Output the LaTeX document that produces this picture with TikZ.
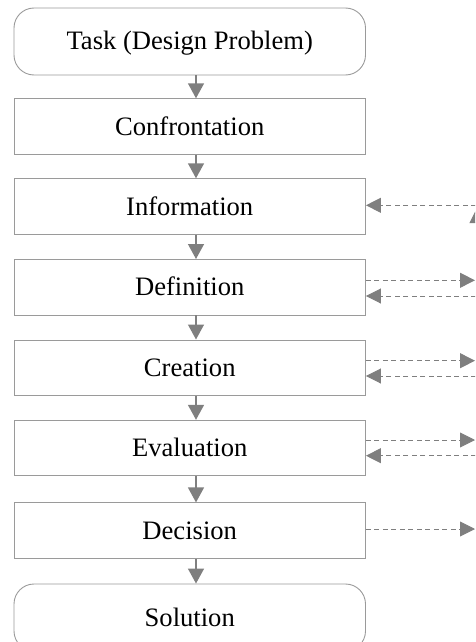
\documentclass[tikz,border=0pt]{standalone}
\usepackage{fontspec}
\setmainfont{Liberation Serif}
\usetikzlibrary{arrows.meta}
\definecolor{boxgray}{HTML}{9A9A9A}
\definecolor{arrgray}{HTML}{7F7F7F}
\tikzset{
  stagebox/.style={draw=boxgray, line width=0.9pt, rectangle, minimum width=351.5pt,
    inner sep=0pt, text height=18pt, text depth=1pt,
    font=\fontsize{26.6}{30}\selectfont},
  termbox/.style={stagebox, rounded corners=20pt, minimum height=67pt},
  stepbox/.style={stagebox, minimum height=55.5pt},
  flowarrow/.style={draw=arrgray, line width=1.4pt, -{Triangle[length=15pt,width=16pt]}, arrgray},
  sidearrow/.style={draw=arrgray, line width=0.9pt, dash pattern=on 5pt off 3.5pt,
    -{Triangle[length=15pt,width=15pt]}, arrgray},
}
\begin{document}
\begin{tikzpicture}[x=1pt,y=-1pt]
\useasboundingbox (0,0) rectangle (475,642);
\clip (0,0) rectangle (475,642);
\node[termbox] (task) at (189.75,41.5) {Task (Design Problem)};
\node[stepbox] (conf) at (189.75,126.5) {Confrontation};
\node[stepbox] (info) at (189.75,206.5) {Information};
\node[stepbox] (defi) at (189.75,287.2) {Definition};
\node[stepbox] (crea) at (189.75,367.7) {Creation};
\node[stepbox] (eval) at (189.75,448) {Evaluation};
\node[stepbox] (deci) at (189.75,530.6) {Decision};
\node[termbox] (solu) at (189.75,617.5) {Solution};
% vertical flow
\foreach \a/\b in {task/conf, conf/info, info/defi, defi/crea, crea/eval, eval/deci, deci/solu}{
  \draw[flowarrow] ([xshift=6.25pt]\a.south) -- ([xshift=6.25pt]\b.north);
}
% free ends on the right
\coordinate (infoR) at (476,205.3);
\coordinate (defiRo) at (475,280.3);
\coordinate (defiRi) at (476,296);
\coordinate (creaRo) at (475,360.7);
\coordinate (creaRi) at (476,376);
\coordinate (evalRo) at (475,440);
\coordinate (evalRi) at (476,455.7);
\coordinate (deciRo) at (475,529);
\coordinate (upS) at (477,250);
\coordinate (upE) at (477,208);
% side arrows
\draw[sidearrow] (infoR) -- (info.east |- infoR);
\draw[sidearrow] (upS) -- (upE);
\draw[sidearrow] (defi.east |- defiRo) -- (defiRo);
\draw[sidearrow] (defiRi) -- (defi.east |- defiRi);
\draw[sidearrow] (crea.east |- creaRo) -- (creaRo);
\draw[sidearrow] (creaRi) -- (crea.east |- creaRi);
\draw[sidearrow] (eval.east |- evalRo) -- (evalRo);
\draw[sidearrow] (evalRi) -- (eval.east |- evalRi);
\draw[sidearrow] (deci.east |- deciRo) -- (deciRo);
\end{tikzpicture}
\end{document}
